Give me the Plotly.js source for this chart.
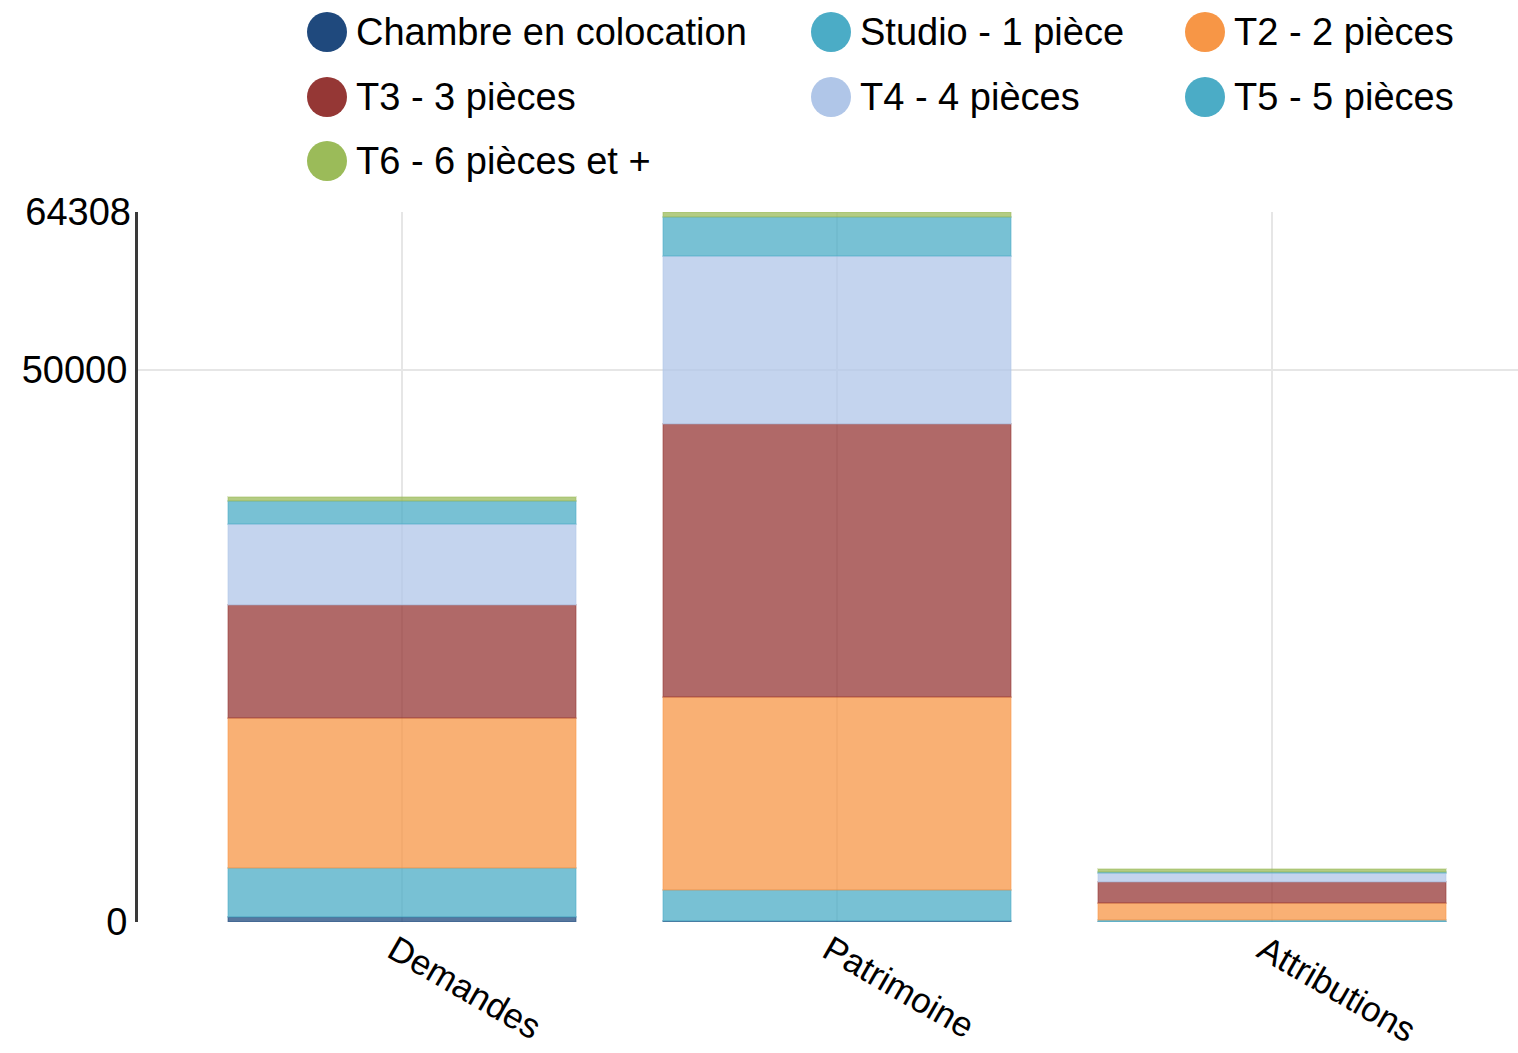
<!DOCTYPE html>
<html>
<head>
<meta charset="utf-8">
<script src="https://cdn.plot.ly/plotly-3.0.1.min.js"></script>
<style>
  html, body { margin: 0; padding: 0; background: #ffffff; }
  #chart { width: 1518px; height: 1053px; }
</style>
</head>
<body>
<div id="chart"></div>
<script>
// ---- Data ----
const categories = ['Demandes', 'Patrimoine', 'Attributions'];
const seriesNames = [
  'Chambre en colocation', 'Studio - 1 pièce', 'T2 - 2 pièces',
  'T3 - 3 pièces', 'T4 - 4 pièces', 'T5 - 5 pièces', 'T6 - 6 pièces et +'
];
const chambre = [450, 80, 30];
const studio  = [4430, 2810, 150];
const t2      = [13560, 17450, 1540];
const t3      = [10280, 24740, 1925];
const t4      = [7320, 15280, 760];
const t5      = [2110, 3460, 118];
const t6      = [300, 488, 271];
const yTickVals = [0, 50000];
const yTopTick = [64308];
const yMax = 64308;

// ---- Styles ----
const seriesColors = ['#1f497d', '#4bacc6', '#f79646', '#953735', '#b0c6e8', '#4bacc6', '#9bbb59'];
const seriesValues = [chambre, studio, t2, t3, t4, t5, t6];
const FONT = 'Liberation Sans, Arial, sans-serif';

function rgba(hex, a) {
  const n = parseInt(hex.slice(1), 16);
  return 'rgba(' + ((n >> 16) & 255) + ',' + ((n >> 8) & 255) + ',' + (n & 255) + ',' + a + ')';
}

const traces = seriesNames.map((name, i) => ({
  type: 'bar',
  name: name,
  x: categories,
  y: seriesValues[i],
  width: 0.8,
  marker: {
    color: rgba(seriesColors[i], 0.75),
    line: { color: rgba(seriesColors[i], 0.3), width: 2 }
  },
  showlegend: false,
  hoverinfo: 'none'
}));

// empty helper trace so the overlaying axis carrying the top tick label is drawn
traces.push({
  type: 'scatter', mode: 'none',
  x: categories, y: categories.map(() => null),
  yaxis: 'y2', showlegend: false, hoverinfo: 'skip'
});

// ---- Custom legend (3 columns, NVD3 style) ----
const W = 1518, H = 1053;
const M = { l: 138, r: 0, t: 212, b: 131 };
const plotW = W - M.l - M.r, plotH = H - M.t - M.b;
const px2x = px => (px - M.l) / plotW;
const py2y = py => (H - M.b - py) / plotH;
const legendColX = [327, 831, 1205];
const legendRowY = [32, 97, 161];
const shapes = [];
const annotations = [];
seriesNames.forEach((name, i) => {
  const col = i % 3, row = Math.floor(i / 3);
  const cx = legendColX[col], cy = legendRowY[row];
  shapes.push({
    type: 'circle', xref: 'paper', yref: 'paper',
    xsizemode: 'pixel', ysizemode: 'pixel',
    xanchor: px2x(cx), yanchor: py2y(cy),
    x0: -20, x1: 20, y0: -20, y1: 20,
    fillcolor: seriesColors[i], line: { width: 0 }
  });
  annotations.push({
    xref: 'paper', yref: 'paper',
    x: px2x(cx + 27), y: py2y(cy),
    xanchor: 'left', yanchor: 'middle',
    text: name, showarrow: false,
    font: { family: FONT, size: 38, color: '#000000' }
  });
});

const tickFont = { family: FONT, size: 38, color: '#000000' };

const layout = {
  width: W, height: H,
  margin: M,
  barmode: 'stack',
  paper_bgcolor: '#ffffff',
  plot_bgcolor: '#ffffff',
  showlegend: false,
  font: { family: FONT, size: 37, color: '#000000' },
  xaxis: {
    type: 'category',
    range: [-0.607, 2.566],
    showgrid: true,
    gridcolor: '#e6e6e6',
    gridwidth: 2,
    showline: false,
    zeroline: false,
    ticks: '',
    tickangle: 30,
    ticklabelshift: -8,
    ticklabelstandoff: 0,
    tickfont: { family: FONT, size: 35, color: '#000000' }
  },
  yaxis: {
    range: [0, yMax],
    tickvals: yTickVals,
    ticktext: yTickVals.map(String),
    showgrid: true,
    gridcolor: '#e6e6e6',
    gridwidth: 2,
    zeroline: false,
    showline: true,
    linecolor: '#3a3a3a',
    linewidth: 3,
    ticks: '',
    tickfont: tickFont
  },
  yaxis2: {
    overlaying: 'y',
    side: 'left',
    range: [0, yMax],
    tickvals: yTopTick,
    ticktext: yTopTick.map(String),
    showgrid: false,
    zeroline: false,
    showline: false,
    ticks: '',
    ticklabelstandoff: 6,
    tickfont: tickFont
  },
  shapes: shapes,
  annotations: annotations
};

Plotly.newPlot('chart', traces, layout, { displayModeBar: false, staticPlot: true });
</script>
</body>
</html>
